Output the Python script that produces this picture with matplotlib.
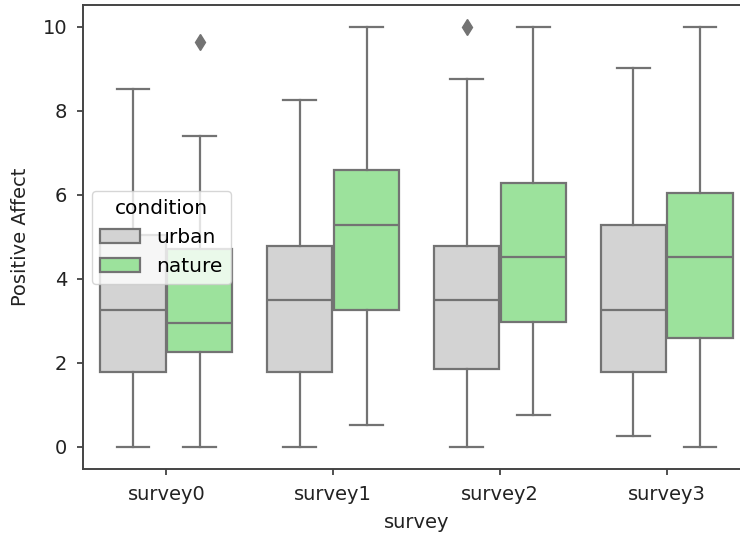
import matplotlib
matplotlib.use("Agg")
import matplotlib.pyplot as plt
from matplotlib.patches import Patch

surveys = ["survey0", "survey1", "survey2", "survey3"]
conditions = ["urban", "nature"]

urban_whislo = [0.0, 0.0, 0.0, 0.26]
urban_q1 = [1.79, 1.79, 1.85, 1.79]
urban_med = [3.25, 3.5, 3.5, 3.25]
urban_q3 = [5.05, 4.77, 4.77, 5.27]
urban_whishi = [8.52, 8.26, 8.76, 9.02]
urban_fliers = [[], [], [10.0], []]

nature_whislo = [0.0, 0.52, 0.76, 0.0]
nature_q1 = [2.25, 3.25, 2.98, 2.59]
nature_med = [2.96, 5.29, 4.53, 4.53]
nature_q3 = [4.72, 6.6, 6.29, 6.04]
nature_whishi = [7.40, 10.0, 10.0, 10.0]
nature_fliers = [[9.63], [], [], []]

colors = {"urban": "#d3d3d3", "nature": "#9ce29c"}
line_gray = "#737373"

def make_stats(lo, q1, med, q3, hi, fl):
    return [dict(whislo=a, q1=b, med=c, q3=d, whishi=e, fliers=f)
            for a, b, c, d, e, f in zip(lo, q1, med, q3, hi, fl)]

stats = {
    "urban": make_stats(urban_whislo, urban_q1, urban_med, urban_q3, urban_whishi, urban_fliers),
    "nature": make_stats(nature_whislo, nature_q1, nature_med, nature_q3, nature_whishi, nature_fliers),
}

fig = plt.figure(figsize=(7.4, 5.37), dpi=100)
ax = fig.add_axes([0.1122, 0.1257, 0.9014, 0.865])

lw = 1.6
offsets = {"urban": -0.2, "nature": 0.2}
for cond in conditions:
    pos = [i + offsets[cond] for i in range(len(surveys))]
    ax.bxp(stats[cond], positions=pos, widths=0.392, patch_artist=True,
           boxprops=dict(facecolor=colors[cond], edgecolor=line_gray, linewidth=lw),
           medianprops=dict(color=line_gray, linewidth=lw),
           whiskerprops=dict(color=line_gray, linewidth=lw),
           capprops=dict(color=line_gray, linewidth=lw),
           flierprops=dict(marker="d", markerfacecolor=line_gray, markeredgecolor=line_gray,
                           markersize=8, linestyle="none"),
           manage_ticks=False)

ax.set_xlim(-0.5, 3.5)
ax.set_ylim(-0.54, 10.52)
ax.set_xticks(range(len(surveys)))
ax.set_xticklabels(surveys)
ax.set_yticks([0, 2, 4, 6, 8, 10])
ax.tick_params(labelsize=14, length=4.5, width=1.2, pad=7, color="#333333", labelcolor="#222222")
ax.set_xlabel("survey", fontsize=14, color="#222222", labelpad=6)
ax.set_ylabel("Positive Affect", fontsize=14, color="#222222", labelpad=9)
for s in ax.spines.values():
    s.set_linewidth(1.4)
    s.set_color("#444444")

handles = [Patch(facecolor=colors[c], edgecolor=line_gray, linewidth=lw, label=c) for c in conditions]
leg = ax.legend(handles=handles, title="condition", loc="center left", fontsize=14.5,
                title_fontsize=14.5, bbox_to_anchor=(0.0, 0.5), handlelength=2.0,
                borderaxespad=0.45)

fig.savefig("out.png", dpi=100)
